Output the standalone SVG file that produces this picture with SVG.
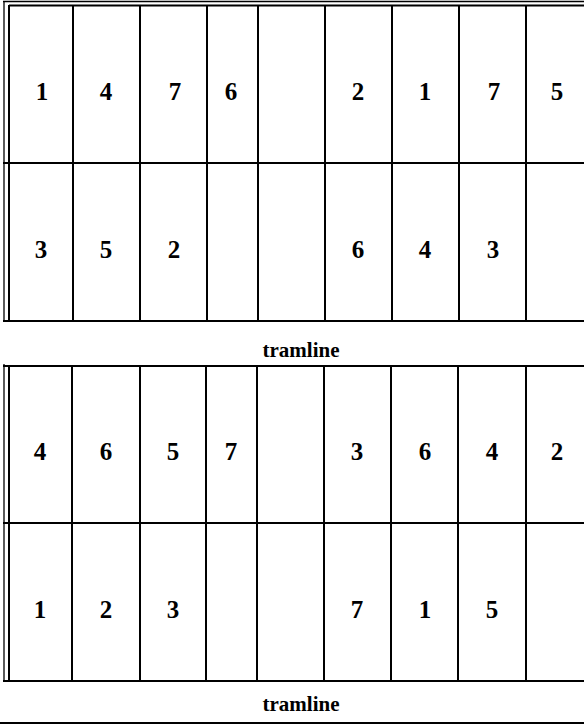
<svg xmlns="http://www.w3.org/2000/svg" width="584" height="724" viewBox="0 0 584 724">
<style>
.ln{stroke:#000;stroke-width:2;fill:none}
.thin{stroke:#000;stroke-width:1.3;fill:none}
.n{font-family:"Liberation Serif","Times New Roman",serif;font-size:25px;font-weight:bold;text-anchor:middle;fill:#000}
.t{font-family:"Liberation Serif","Times New Roman",serif;font-size:21px;font-weight:bold;text-anchor:middle;fill:#000}
</style>
<rect width="584" height="724" fill="#fff"/>
<g id="block1">
  <line class="thin" x1="3" y1="1.5" x2="584" y2="1.5"/>
  <line class="ln" x1="9" y1="5.5" x2="584" y2="5.5"/>
  <line class="thin" x1="4" y1="1" x2="4" y2="322"/>
  <line class="ln" x1="9" y1="5" x2="9" y2="322"/>
  <line class="ln" x1="3" y1="163" x2="584" y2="163"/>
  <line class="ln" x1="3" y1="321" x2="584" y2="321"/>
  <g class="ln">
    <line x1="73" y1="5" x2="73" y2="321"/>
    <line x1="140" y1="5" x2="140" y2="321"/>
    <line x1="207" y1="5" x2="207" y2="321"/>
    <line x1="258" y1="5" x2="258" y2="321"/>
    <line x1="325" y1="5" x2="325" y2="321"/>
    <line x1="392" y1="5" x2="392" y2="321"/>
    <line x1="459" y1="5" x2="459" y2="321"/>
    <line x1="526" y1="5" x2="526" y2="321"/>
  </g>
  <g id="b1r1">
    <text class="n" x="42" y="100">1</text>
    <text class="n" x="106" y="100">4</text>
    <text class="n" x="175" y="100">7</text>
    <text class="n" x="231" y="100">6</text>
    <text class="n" x="358" y="100">2</text>
    <text class="n" x="425" y="100">1</text>
    <text class="n" x="494" y="100">7</text>
    <text class="n" x="557" y="100">5</text>
  </g>
  <g id="b1r2">
    <text class="n" x="41" y="258">3</text>
    <text class="n" x="106" y="258">5</text>
    <text class="n" x="174" y="258">2</text>
    <text class="n" x="358" y="258">6</text>
    <text class="n" x="425" y="258">4</text>
    <text class="n" x="493" y="258">3</text>
  </g>
</g>
<text id="tram1" class="t" x="301" y="357">tramline</text>
<g id="block2">
  <line class="ln" x1="3" y1="366" x2="584" y2="366"/>
  <line class="thin" x1="4" y1="364" x2="4" y2="682"/>
  <line class="ln" x1="9" y1="366" x2="9" y2="682"/>
  <line class="ln" x1="3" y1="523" x2="584" y2="523"/>
  <line class="ln" x1="3" y1="681" x2="584" y2="681"/>
  <g class="ln">
    <line x1="72" y1="366" x2="72" y2="681"/>
    <line x1="140" y1="366" x2="140" y2="681"/>
    <line x1="206" y1="366" x2="206" y2="681"/>
    <line x1="257" y1="366" x2="257" y2="681"/>
    <line x1="324" y1="366" x2="324" y2="681"/>
    <line x1="391" y1="366" x2="391" y2="681"/>
    <line x1="458" y1="366" x2="458" y2="681"/>
    <line x1="526" y1="366" x2="526" y2="681"/>
  </g>
  <g id="b2r1">
    <text class="n" x="40" y="460">4</text>
    <text class="n" x="106" y="460">6</text>
    <text class="n" x="173" y="460">5</text>
    <text class="n" x="231" y="460">7</text>
    <text class="n" x="357" y="460">3</text>
    <text class="n" x="425" y="460">6</text>
    <text class="n" x="492" y="460">4</text>
    <text class="n" x="557" y="460">2</text>
  </g>
  <g id="b2r2">
    <text class="n" x="40" y="618">1</text>
    <text class="n" x="106" y="618">2</text>
    <text class="n" x="173" y="618">3</text>
    <text class="n" x="357" y="618">7</text>
    <text class="n" x="425" y="618">1</text>
    <text class="n" x="492" y="618">5</text>
  </g>
</g>
<g id="tram2">
  <text class="t" x="301" y="711">tramline</text>
  <line class="ln" x1="0" y1="723" x2="584" y2="723"/>
</g>
</svg>
